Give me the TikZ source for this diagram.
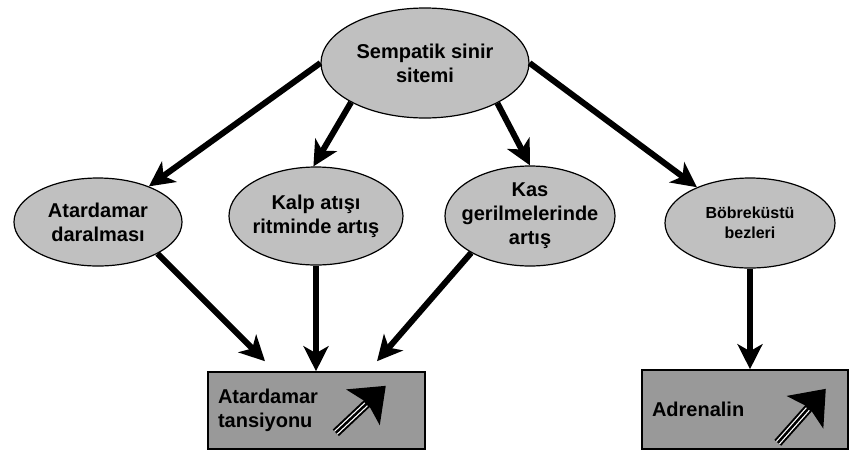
\documentclass[tikz,border=0pt]{standalone}
\usepackage{fontspec}
\setmainfont{Liberation Sans}
\usetikzlibrary{shapes, arrows.meta, positioning, calc}

\definecolor{ovalgray}{HTML}{C0C0C0}
\definecolor{boxgray}{HTML}{999999}

\begin{document}
\begin{tikzpicture}[x=1pt, y=-1pt,
  oval/.style={ellipse, draw, line width=1.2pt, fill=ovalgray, inner sep=0pt},
  lbl/.style={align=center, font=\fontsize{20}{24}\selectfont\bfseries},
  kutu/.style={rectangle, draw, line width=1.6pt, fill=boxgray, inner xsep=10pt,
    align=left, font=\fontsize{20}{24}\selectfont\bfseries},
  ok/.style={line width=6pt, -{Stealth[length=25pt, width=25pt, inset=7pt]}}]
  \useasboundingbox (0,0) rectangle (849,451);

  % Ellipses
  \node[oval, minimum width=208pt, minimum height=110pt] (sempatik) at (425,63) {};
  \node[oval, minimum width=168pt, minimum height=88pt] (atar) at (98,222) {};
  \node[oval, minimum width=174pt, minimum height=98pt] (kalp) at (316,216) {};
  \node[oval, minimum width=170pt, minimum height=100pt] (kas) at (530,216) {};
  \node[oval, minimum width=170pt, minimum height=90pt] (bobrek) at (750,223) {};

  % Ellipse texts
  \node[lbl] (sempatik-t) at (sempatik) {Sempatik sinir\\sitemi};
  \node[lbl] (atar-t) at (atar) {Atardamar\\daralması};
  \node[lbl] (kalp-t) at (kalp) {Kalp atışı\\ritminde artış};
  \node[lbl] (kas-t) at (kas) {Kas\\gerilmelerinde\\artış};
  \node[lbl, font=\fontsize{16}{20}\selectfont\bfseries] (bobrek-t) at (bobrek) {Böbreküstü\\bezleri};

  % Boxes
  \node[kutu, minimum width=217pt, minimum height=77pt, text width=197pt] (tansiyon) at (316.5,410.5) {Atardamar\\tansiyonu};
  \node[kutu, minimum width=206pt, minimum height=79pt, text width=186pt] (adrenalin) at (745,409.5) {Adrenalin};

  % Free ends above the box
  \coordinate (ucA) at ($(tansiyon.north)+(-51.5,-10)$);
  \coordinate (ucB) at ($(tansiyon.north)+(60.5,-10)$);

  % Connectors
  \draw[ok] (sempatik.180) -- (atar.35);
  \draw[ok] (sempatik.208) -- (kalp.93);
  \draw[ok] (sempatik.331) -- (kas.north);
  \draw[ok] (sempatik.east) -- (bobrek.146);
  \draw[ok] (atar.-28) -- (ucA);
  \draw[ok] (kalp.south) -- (kalp.south |- tansiyon.north);
  \draw[ok] (kas.212) -- (ucB);
  \draw[ok] (bobrek.south) -- (bobrek.south |- adrenalin.north);

  % Rising arrows in the boxes
  \coordinate (k1) at ($(tansiyon.south east)+(-90,-17)$);
  \coordinate (u1) at ($(tansiyon.south east)+(-40,-64)$);
  \coordinate (k2) at ($(adrenalin.south east)+(-71,-7)$);
  \coordinate (u2) at ($(adrenalin.south east)+(-23,-61)$);
  \foreach \k/\u in {k1/u1, k2/u2}{
    \draw[line width=9pt, -{Stealth[length=31pt, width=48pt, inset=6pt]}] (\k) -- (\u);
    \draw[white, line width=5pt, shorten >=27pt] (\k) -- (\u);
    \draw[line width=2.5pt, shorten >=26pt] (\k) -- (\u);
  }
\end{tikzpicture}
\end{document}
